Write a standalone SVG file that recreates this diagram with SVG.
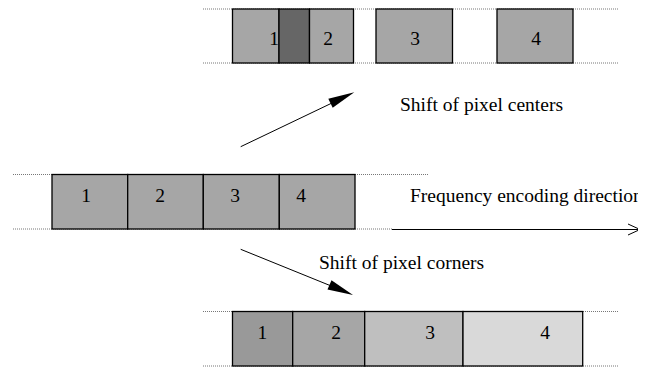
<svg xmlns="http://www.w3.org/2000/svg" width="658" height="370" viewBox="0 0 658 370">
<style>
.dot{stroke:#777;stroke-width:1;stroke-dasharray:1,1;fill:none}
.box{stroke:#000;stroke-width:1.3}
.g{fill:#a6a6a6}
.t{font-family:"Liberation Serif","Times New Roman",serif;font-size:19.5px;fill:#000}
.c{text-anchor:middle}
.ln{stroke:#000;stroke-width:1;fill:none}
</style>
<defs>
<clipPath id="clip"><rect x="0" y="0" width="638" height="370"/></clipPath>
</defs>
<rect width="658" height="370" fill="#fff"/>
<g id="guides">
<line class="dot" x1="203" y1="9" x2="618" y2="9"/>
<line class="dot" x1="203" y1="63" x2="618" y2="63"/>
<line class="dot" x1="13" y1="174.5" x2="429" y2="174.5"/>
<line class="dot" x1="13" y1="229" x2="392" y2="229"/>
<line class="dot" x1="203" y1="311.5" x2="618" y2="311.5"/>
<line class="dot" x1="203" y1="366" x2="618" y2="366"/>
</g>
<g id="top-row">
<rect class="box g" x="232.5" y="9" width="46.5" height="54"/>
<rect class="box" fill="#666" x="279" y="9" width="30.5" height="54"/>
<rect class="box g" x="309.5" y="9" width="44" height="54"/>
<rect class="box g" x="376" y="9" width="76.5" height="54"/>
<rect class="box g" x="497" y="9" width="76" height="54"/>
<text class="t c" x="274" y="44.5">1</text>
<text class="t c" x="328" y="44.5">2</text>
<text class="t c" x="415" y="44.5">3</text>
<text class="t c" x="536" y="44.5">4</text>
</g>
<g id="middle-row">
<rect class="box g" x="52" y="174.5" width="75.7" height="54.5"/>
<rect class="box g" x="127.7" y="174.5" width="75.6" height="54.5"/>
<rect class="box g" x="203.3" y="174.5" width="76" height="54.5"/>
<rect class="box g" x="279.3" y="174.5" width="75.7" height="54.5"/>
<text class="t c" x="86" y="202">1</text>
<text class="t c" x="160" y="202">2</text>
<text class="t c" x="235" y="202">3</text>
<text class="t c" x="301" y="202">4</text>
</g>
<g id="bottom-row">
<rect class="box" fill="#999" x="232.5" y="311.5" width="60.2" height="54.5"/>
<rect class="box" fill="#a6a6a6" x="292.7" y="311.5" width="72" height="54.5"/>
<rect class="box" fill="#bfbfbf" x="364.7" y="311.5" width="98.3" height="54.5"/>
<rect class="box" fill="#d9d9d9" x="463" y="311.5" width="119.7" height="54.5"/>
<text class="t c" x="262.3" y="339">1</text>
<text class="t c" x="336" y="339">2</text>
<text class="t c" x="430" y="339">3</text>
<text class="t c" x="545" y="339">4</text>
</g>
<g id="connectors">
<line class="ln" x1="240.7" y1="146.7" x2="332" y2="103"/>
<polygon points="354.3,92.3 328.3,98.7 332.7,107.7" fill="#000"/>
<line class="ln" x1="240.7" y1="249.3" x2="330" y2="285.5"/>
<polygon points="353,295 327.5,289.5 331.5,280.3" fill="#000"/>
<g clip-path="url(#clip)">
<line x1="392" y1="229.5" x2="640" y2="229.5" stroke="#000" stroke-width="1"/>
<polyline points="628,224 640,229.5 628,235" fill="none" stroke="#000" stroke-width="1"/>
</g>
</g>
<g id="labels">
<text class="t" x="400" y="110.7">Shift of pixel centers</text>
<text class="t" x="319" y="269">Shift of pixel corners</text>
<g clip-path="url(#clip)">
<text class="t" x="410" y="201.7">Frequency encoding direction</text>
</g>
</g>
</svg>
